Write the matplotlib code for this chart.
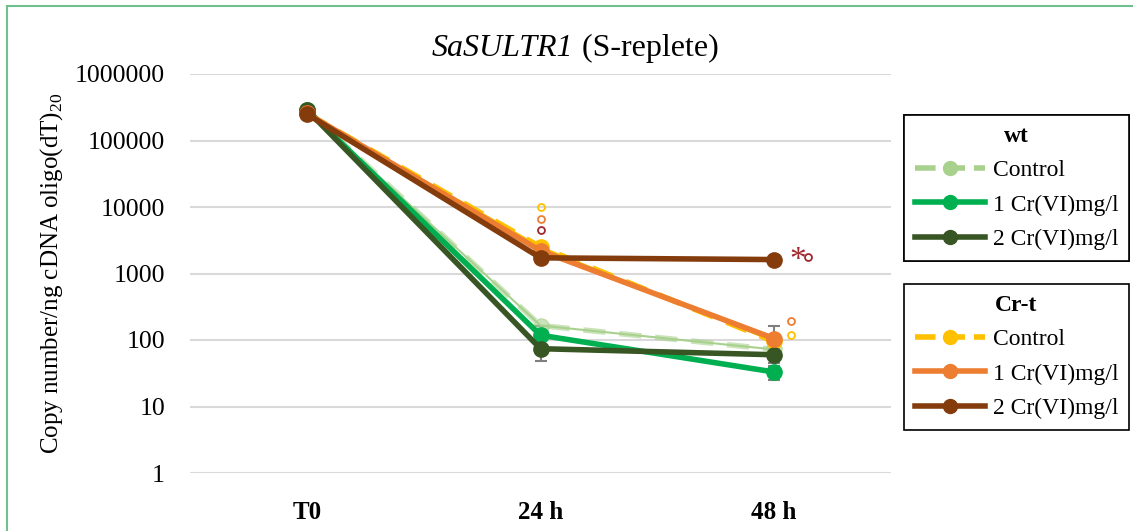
import matplotlib.pyplot as plt
import matplotlib.patches as mpatches
from matplotlib.lines import Line2D
import numpy as np

plt.rcParams['font.family'] = ['Liberation Serif', 'DejaVu Serif']
plt.rcParams['mathtext.fontset'] = 'custom'
plt.rcParams['mathtext.rm'] = 'Liberation Serif'

# Daten
zeiten = ['T0', '24 h', '48 h']
gruppen = ['wt', 'Cr-t']
behandlungen = ['Control', '1 Cr(VI)mg/l', '2 Cr(VI)mg/l']

wt_control = [290000, 165, 72]
wt_1cr = [290000, 118, 33]
wt_2cr = [290000, 74, 60]
crt_control = [255000, 2500, 95]
crt_1cr = [255000, 2200, 105]
crt_2cr = [250000, 1720, 1620]

# Fehlerbalken (symmetrisch)
wt_control_err = [0, 0, 0]
wt_1cr_err = [0, 0, 8]
wt_2cr_err = [0, 25, 0]
crt_control_err = [0, 300, 0]
crt_1cr_err = [0, 250, 60]
crt_2cr_err = [0, 200, 0]

farben_wt = ['#A9D18E', '#00B050', '#375623']
farben_crt = ['#FFC000', '#ED7D31', '#843C0C']

fig = plt.figure(figsize=(11.33, 5.31), dpi=100)
ax = fig.add_axes([190 / 1133, 1 - 473 / 531, 701 / 1133, 399 / 531])

x = np.arange(len(zeiten))

serien = [
    (wt_control, wt_control_err, farben_wt[0], '--', 0.6),
    (crt_control, crt_control_err, farben_crt[0], '--', 1.0),
    (wt_1cr, wt_1cr_err, farben_wt[1], '-', 1.0),
    (wt_2cr, wt_2cr_err, farben_wt[2], '-', 1.0),
    (crt_1cr, crt_1cr_err, farben_crt[1], '-', 1.0),
    (crt_2cr, crt_2cr_err, farben_crt[2], '-', 1.0),
]
for werte, err, farbe, ls, alpha in serien:
    ax.errorbar(x, werte, yerr=err, color=farbe, ecolor='#7f7f7f', elinewidth=1.5,
                capsize=4, capthick=1.5, zorder=1)
    ax.plot(x, werte, color=farbe, linestyle=ls, linewidth=4, marker='o',
            markersize=11, alpha=alpha, zorder=3, dashes=(4, 2.5) if ls == '--' else (None, None))

ax.set_yscale('log')
ax.set_ylim(1, 1e6)
ax.set_xlim(-0.5, 2.5)
ax.set_yticks([1, 10, 100, 1000, 10000, 100000, 1000000])
ax.set_yticklabels(['1', '10', '100', '1000', '10000', '100000', '1000000'], fontsize=18.5)
ax.minorticks_off()
ax.set_xticks(x)
ax.set_xticklabels(zeiten, fontsize=18, fontweight='bold')
ax.tick_params(axis='y', length=0, pad=18)
ax.tick_params(axis='x', length=0, pad=20)
ax.grid(axis='y', color='#d9d9d9', linewidth=1.5)
for s in ax.spines.values():
    s.set_visible(False)
ax.set_axisbelow(True)

ax.set_ylabel('Copy number/ng cDNA oligo(dT)$_{20}$', fontsize=18, labelpad=7)

# Titel: kursiver Genname + normaler Rest
t1 = fig.text(432 / 1133, 1 - 48 / 531, 'SaSULTR1', fontsize=23, style='italic',
              ha='left', va='center')
fig.canvas.draw()
ax.annotate(' (S-replete)', xy=(1, 0.5), xycoords=t1, fontsize=23, ha='left', va='center')

# Signifikanz-Markierungen
kreise_24h = [(10000, farben_crt[0]), (6700, farben_crt[1]), (4500, '#A0282D')]
for yv, c in kreise_24h:
    ax.plot(1, yv, marker='o', markersize=5, markerfacecolor='none', markeredgecolor=c,
            markeredgewidth=1.3, linestyle='none', zorder=4)
ax.text(2.1, 1580, '*', color='#A0282D', fontsize=24, ha='center', va='center')
ax.plot(2.145, 1780, marker='o', markersize=5, markerfacecolor='none', markeredgecolor='#A0282D',
        markeredgewidth=1.3, linestyle='none', clip_on=False)
ax.plot(2.07, 195, marker='o', markersize=5, markerfacecolor='none', markeredgecolor=farben_crt[1],
        markeredgewidth=1.3, linestyle='none', clip_on=False)
ax.plot(2.07, 118, marker='o', markersize=5, markerfacecolor='none', markeredgecolor=farben_crt[0],
        markeredgewidth=1.3, linestyle='none', clip_on=False)


def legende(farben, titel, y_oben):
    handles = []
    for i, b in enumerate(behandlungen):
        ls = '--' if i == 0 else '-'
        handles.append(Line2D([], [], color=farben[i], linestyle=ls, linewidth=4,
                              marker='o', markersize=10))
    leg = fig.legend(handles, behandlungen, loc='upper left',
                     bbox_to_anchor=(904 / 1133, 1 - y_oben / 531), fontsize=17,
                     title=titel, title_fontproperties={'weight': 'bold', 'size': 17},
                     frameon=True, fancybox=False, edgecolor='black', handlelength=3.0,
                     borderpad=0.45, labelspacing=0.55, handletextpad=0.3,
                     borderaxespad=0, framealpha=1)
    leg.get_frame().set_linewidth(1.2)
    return leg


l1 = legende(farben_wt, 'wt', 115)
fig.add_artist(l1)
legende(farben_crt, 'Cr-t', 284)

# Rahmen
fig.patches.append(mpatches.Rectangle((7 / 1133, -0.05), 1.2, 1 - 6 / 531 + 0.05,
                                      transform=fig.transFigure, fill=False,
                                      edgecolor='#6FBF8F', linewidth=1.5))

fig.savefig('out.png', dpi=100)
